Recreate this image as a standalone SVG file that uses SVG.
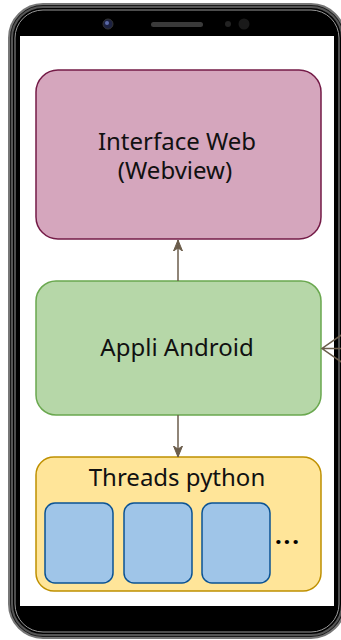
<svg xmlns="http://www.w3.org/2000/svg" width="341" height="640" viewBox="0 0 341 640">
<style>
  .lbl { font-family: "Noto Sans", "Open Sans", sans-serif; font-size: 24px; fill: #111; text-anchor: middle; }
  .conn { stroke: #6b5d4b; stroke-width: 1.5; fill: none; }
  .thread { fill: #9fc5e8; stroke: #0b5394; stroke-width: 1.5; }
</style>
<defs>
  <marker id="arr" markerUnits="userSpaceOnUse" markerWidth="12" markerHeight="12" viewBox="0 0 12 12" refX="11" refY="6" orient="auto">
    <path d="M11,6 L0,1.5 L3,6 L0,10.5 Z" fill="#6b5d4b" stroke="#6b5d4b" stroke-width="1"/>
  </marker>
</defs>
<rect width="341" height="640" fill="#ffffff"/>
<g id="phone">
  <rect x="9" y="4" width="336" height="634" rx="34" fill="#1a1a1a" stroke="#777" stroke-width="2"/>
  <rect x="12" y="7" width="330" height="628" rx="31" fill="#000" stroke="#555" stroke-width="2"/>
  <rect x="15" y="10" width="324" height="622" rx="28" fill="#000" stroke="#9a9a9a" stroke-width="1"/>
  <rect x="20" y="36" width="314" height="570" fill="#ffffff"/>
  <circle cx="108" cy="24" r="5" fill="#1c2140" stroke="#333" stroke-width="1"/>
  <circle cx="107" cy="23" r="2" fill="#5b6aa8"/>
  <rect x="151" y="22" width="52" height="5" rx="2.5" fill="#3a3a3a"/>
  <circle cx="228" cy="24" r="3" fill="#222"/>
  <circle cx="244" cy="24" r="5.5" fill="#1a1a1a"/>
</g>
<g id="interface-web">
  <rect x="36" y="70" width="285" height="169" rx="22" fill="#d5a6bd" stroke="#741b47" stroke-width="1.5"/>
  <text class="lbl"><tspan x="177" y="150">Interface Web</tspan><tspan x="175" y="179">(Webview)</tspan></text>
</g>
<g id="appli-android">
  <rect x="36" y="281" width="285" height="134" rx="20" fill="#b6d7a8" stroke="#6aa84f" stroke-width="1.5"/>
  <text class="lbl" x="177" y="356">Appli Android</text>
</g>
<g id="threads-python">
  <rect x="36" y="457" width="285" height="134" rx="18" fill="#ffe599" stroke="#bf9000" stroke-width="1.5"/>
  <text class="lbl" x="177" y="486">Threads python</text>
  <rect class="thread" x="45" y="503" width="68" height="80" rx="10"/>
  <rect class="thread" x="124" y="503" width="68" height="80" rx="10"/>
  <rect class="thread" x="202" y="503" width="68" height="80" rx="10"/>
  <text x="288" y="544" font-family="Noto Sans, sans-serif" font-size="24" font-weight="bold" fill="#000" text-anchor="middle" letter-spacing="2">...</text>
</g>
<g id="connectors">
  <line class="conn" x1="178" y1="281" x2="178" y2="240" marker-end="url(#arr)"/>
  <line class="conn" x1="178" y1="415" x2="178" y2="457" marker-end="url(#arr)"/>
  <path class="conn" d="M345,348.5 L322,348.5 M345,332.5 L322,348.5 L345,364.5"/>
</g>
</svg>
